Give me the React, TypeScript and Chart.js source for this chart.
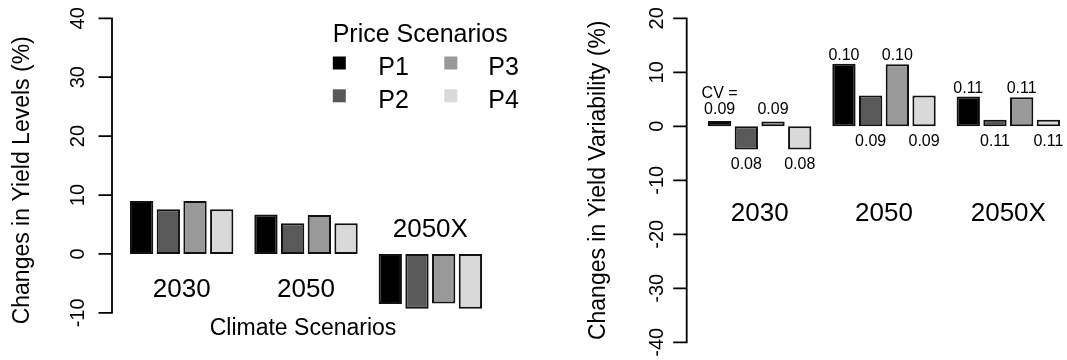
import { useEffect, useRef } from 'react';
import { Chart, registerables } from 'chart.js';

Chart.register(...registerables);

const FONT = '"Liberation Sans", Arial, Helvetica, sans-serif';

// ---- data ----
const climateScenarios = ['2030', '2050', '2050X'];
const priceScenarios = ['P1', 'P2', 'P3', 'P4'];
const barColors = ['#000000', '#595959', '#999999', '#d9d9d9'];

const yieldLevelP1 = [9.0, 6.7, -8.5];
const yieldLevelP2 = [7.6, 5.2, -9.3];
const yieldLevelP3 = [9.0, 6.6, -8.4];
const yieldLevelP4 = [7.6, 5.2, -9.3];

const variabilityP1 = [1.0, 11.6, 5.5];
const variabilityP2 = [-4.3, 5.7, 1.2];
const variabilityP3 = [0.9, 11.5, 5.4];
const variabilityP4 = [-4.3, 5.7, 1.2];

const cvP1 = ['0.09', '0.10', '0.11'];
const cvP2 = ['0.08', '0.09', '0.11'];
const cvP3 = ['0.09', '0.10', '0.11'];
const cvP4 = ['0.08', '0.09', '0.11'];

const levelTicks = [-10, 0, 10, 20, 30, 40];
const variabilityTicks = [-40, -30, -20, -10, 0, 10, 20];

const levelTitle = 'Changes in Yield Levels (%)';
const variabilityTitle = 'Changes in Yield Variability (%)';
const xTitle = 'Climate Scenarios';
const legendTitle = 'Price Scenarios';

function makeDatasets(series: number[][]) {
  return series.map((values, i) => ({
    label: priceScenarios[i],
    data: values,
    backgroundColor: barColors[i],
    borderColor: '#111111',
    borderWidth: 2,
    borderSkipped: false as const,
    categoryPercentage: 0.859,
    barPercentage: 0.873,
  }));
}

function drawYAxis(chart: any, axisX: number, ticks: number[], labelX: number, titleX: number, title: string) {
  const ctx = chart.ctx as CanvasRenderingContext2D;
  const y = chart.scales.y;
  ctx.save();
  ctx.strokeStyle = '#000';
  ctx.lineWidth = 1.8;
  const top = y.getPixelForValue(ticks[ticks.length - 1]);
  const bot = y.getPixelForValue(ticks[0]);
  ctx.beginPath();
  ctx.moveTo(axisX, top - 0.9);
  ctx.lineTo(axisX, bot + 0.9);
  for (const t of ticks) {
    const p = y.getPixelForValue(t);
    ctx.moveTo(axisX, p);
    ctx.lineTo(axisX - 13.5, p);
  }
  ctx.stroke();
  ctx.fillStyle = '#000';
  ctx.textAlign = 'center';
  ctx.textBaseline = 'alphabetic';
  ctx.font = `20px ${FONT}`;
  for (const t of ticks) {
    const p = y.getPixelForValue(t);
    ctx.save();
    ctx.translate(labelX, p);
    ctx.rotate(-Math.PI / 2);
    ctx.fillText(String(t), 0, 0);
    ctx.restore();
  }
  ctx.font = `23px ${FONT}`;
  const midY = (chart.chartArea.top + chart.chartArea.bottom) / 2;
  ctx.save();
  ctx.translate(titleX, midY);
  ctx.rotate(-Math.PI / 2);
  ctx.fillText(title, 0, 0);
  ctx.restore();
  ctx.restore();
}

const levelPlugin = {
  id: 'levelDecor',
  afterDraw(chart: any) {
    const ctx = chart.ctx as CanvasRenderingContext2D;
    const x = chart.scales.x;
    const y = chart.scales.y;
    drawYAxis(chart, 112, levelTicks, 84.2, 29, levelTitle);
    ctx.save();
    ctx.fillStyle = '#000';
    ctx.textAlign = 'center';
    ctx.textBaseline = 'alphabetic';
    ctx.font = `26px ${FONT}`;
    const zero = y.getPixelForValue(0);
    climateScenarios.forEach((name, i) => {
      const vals = [yieldLevelP1[i], yieldLevelP2[i], yieldLevelP3[i], yieldLevelP4[i]];
      const neg = Math.max(...vals) < 0;
      const cx = x.getPixelForValue(i);
      ctx.fillText(name, cx, neg ? zero - 16.7 : zero + 42.8);
    });
    ctx.font = `23px ${FONT}`;
    ctx.fillText(xTitle, 303, 334.8);
    // legend
    ctx.textAlign = 'left';
    ctx.font = `25px ${FONT}`;
    ctx.fillText(legendTitle, 332.7, 41.7);
    const cols = [339.3, 450.8];
    const textCols = [378.3, 488.3];
    const rows = [63, 95.8];
    const baseRows = [75, 108.3];
    priceScenarios.forEach((p, i) => {
      const col = Math.floor(i / 2);
      const row = i % 2;
      ctx.fillStyle = barColors[i];
      ctx.fillRect(cols[col] - 6.5, rows[row] - 6.5, 13, 13);
      ctx.fillStyle = '#000';
      ctx.fillText(p, textCols[col], baseRows[row]);
    });
    ctx.restore();
  },
};

const variabilityPlugin = {
  id: 'variabilityDecor',
  afterDraw(chart: any) {
    const ctx = chart.ctx as CanvasRenderingContext2D;
    const x = chart.scales.x;
    const y = chart.scales.y;
    drawYAxis(chart, 153.7, variabilityTicks, 130, 72, variabilityTitle);
    ctx.save();
    ctx.fillStyle = '#000';
    ctx.textAlign = 'center';
    ctx.textBaseline = 'alphabetic';
    ctx.font = `26px ${FONT}`;
    const zero = y.getPixelForValue(0);
    climateScenarios.forEach((name, i) => {
      ctx.fillText(name, x.getPixelForValue(i), zero + 95);
    });
    ctx.font = `16px ${FONT}`;
    const series = [variabilityP1, variabilityP2, variabilityP3, variabilityP4];
    const cvs = [cvP1, cvP2, cvP3, cvP4];
    series.forEach((vals, d) => {
      const meta = chart.getDatasetMeta(d);
      vals.forEach((v, i) => {
        const bar = meta.data[i];
        const bx = bar.x;
        if (d % 2 === 0) {
          const upper = Math.max(series[0][i], series[2][i], 1.7);
          const by = y.getPixelForValue(upper) - 3.3;
          ctx.fillText(cvs[d][i], bx, by);
          if (d === 0 && i === 0) ctx.fillText('CV =', bx, by - 15.6);
        } else {
          const by = y.getPixelForValue(Math.min(v, 0)) + 19.5;
          ctx.fillText(cvs[d][i], bx, by);
        }
      });
    });
    ctx.restore();
  },
};

function App() {
  const leftRef = useRef<HTMLCanvasElement | null>(null);
  const rightRef = useRef<HTMLCanvasElement | null>(null);

  useEffect(() => {
    const left = new Chart(leftRef.current!, {
      type: 'bar',
      data: {
        labels: climateScenarios,
        datasets: makeDatasets([yieldLevelP1, yieldLevelP2, yieldLevelP3, yieldLevelP4]),
      },
      options: {
        responsive: false,
        animation: false,
        layout: { padding: { left: 119.5, right: 40.5, top: 18.3, bottom: 17.7 } },
        plugins: { legend: { display: false }, tooltip: { enabled: false } },
        scales: {
          x: { display: false, offset: true, grid: { display: false } },
          y: { display: false, min: -15, max: 40, grid: { display: false } },
        },
      },
      plugins: [levelPlugin],
    });
    const right = new Chart(rightRef.current!, {
      type: 'bar',
      data: {
        labels: climateScenarios,
        datasets: makeDatasets([variabilityP1, variabilityP2, variabilityP3, variabilityP4]),
      },
      options: {
        responsive: false,
        animation: false,
        layout: { padding: { left: 164.5, right: 7.5, top: 18.3, bottom: 17.7 } },
        plugins: { legend: { display: false }, tooltip: { enabled: false } },
        scales: {
          x: { display: false, offset: true, grid: { display: false } },
          y: { display: false, min: -40, max: 20, grid: { display: false } },
        },
      },
      plugins: [variabilityPlugin],
    });
    return () => {
      left.destroy();
      right.destroy();
    };
  }, []);

  return (
    <div
      style={{
        position: 'fixed',
        left: 0,
        top: 0,
        width: 1067,
        height: 360,
        overflow: 'hidden',
        background: '#ffffff',
      }}
    >
      <canvas ref={leftRef} width={533} height={360} style={{ position: 'absolute', left: 0, top: 0 }} />
      <canvas ref={rightRef} width={545} height={360} style={{ position: 'absolute', left: 533, top: 0 }} />
    </div>
  );
}

export default App;
